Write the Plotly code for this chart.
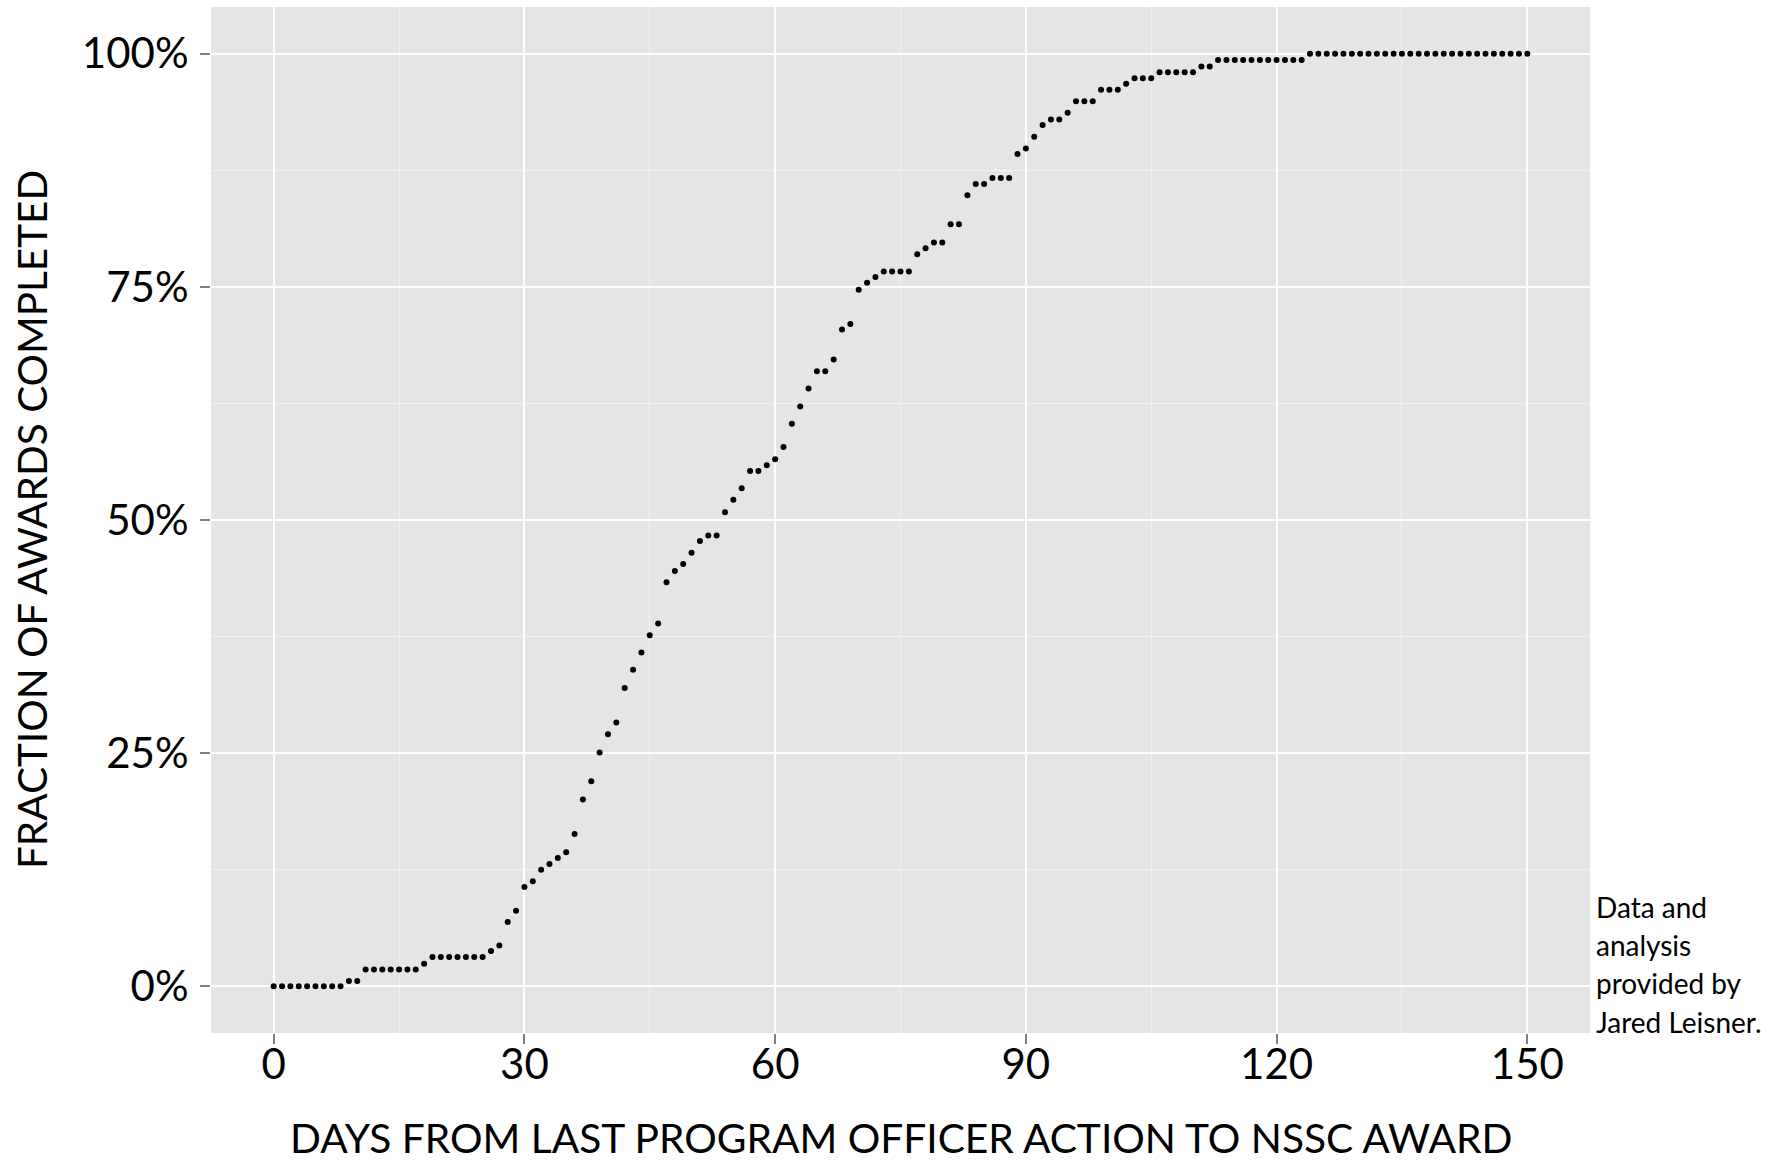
import plotly.graph_objects as go

days = list(range(0, 151))

fraction_completed = [
    # days 0-8
    0.0, 0.0, 0.0, 0.0, 0.0, 0.0, 0.0, 0.0, 0.0,
    # days 9-10
    0.0058, 0.0058,
    # days 11-17
    0.0182, 0.0182, 0.0182, 0.0182, 0.0182, 0.0182, 0.0182,
    # day 18
    0.0243,
    # days 19-25
    0.0314, 0.0314, 0.0314, 0.0314, 0.0314, 0.0314, 0.0314,
    # days 26-29
    0.0379, 0.0439, 0.0689, 0.081,
    # days 30-39
    0.1066, 0.1127, 0.1251, 0.1312, 0.1376, 0.1437, 0.1633, 0.2004, 0.22, 0.2507,
    # days 40-49
    0.2703, 0.2828, 0.3198, 0.3395, 0.358, 0.3765, 0.389, 0.4332, 0.4453, 0.4528,
    # days 50-59
    0.4649, 0.4774, 0.4834, 0.4834, 0.5084, 0.5216, 0.5341, 0.5526, 0.5526, 0.5587,
    # days 60-69
    0.5651, 0.5783, 0.6032, 0.6218, 0.641, 0.6596, 0.6596, 0.672, 0.7042, 0.7102,
    # days 70-79
    0.7469, 0.7544, 0.7604, 0.7665, 0.7665, 0.7665, 0.7665, 0.785, 0.7914, 0.7975,
    # days 80-89
    0.7975, 0.8171, 0.8171, 0.8481, 0.8603, 0.8603, 0.8667, 0.8667, 0.8667, 0.8924,
    # days 90-99
    0.8984, 0.9109, 0.9234, 0.9294, 0.9294, 0.9366, 0.949, 0.949, 0.949, 0.9612,
    # days 100-109
    0.9612, 0.9612, 0.9676, 0.9737, 0.9737, 0.9737, 0.9801, 0.9801, 0.9801, 0.9801,
    # days 110-119
    0.9801, 0.9861, 0.9861, 0.9932, 0.9932, 0.9932, 0.9932, 0.9932, 0.9932, 0.9932,
    # days 120-123
    0.9932, 0.9932, 0.9932, 0.9932,
    # days 124-150
] + [1.0] * 27

x_tick_vals = [0, 30, 60, 90, 120, 150]
x_tick_text = ["0", "30", "60", "90", "120", "150"]
y_tick_vals = [0, 0.25, 0.5, 0.75, 1.0]
y_tick_text = ["0%", "25%", "50%", "75%", "100%"]

x_title = "DAYS FROM LAST PROGRAM OFFICER ACTION TO NSSC AWARD"
y_title = "FRACTION OF AWARDS COMPLETED"
credit_lines = ["Data and", "analysis", "provided by", "Jared Leisner."]

FONT = "Lato"

fig = go.Figure()
fig.add_trace(go.Scatter(
    x=days, y=fraction_completed, mode="markers",
    marker=dict(color="black", size=6, line=dict(width=0)),
    hoverinfo="x+y", showlegend=False,
))

axis_common = dict(
    showgrid=True, gridcolor="white", gridwidth=2,
    zeroline=False, showline=False,
    ticks="outside", ticklen=10, tickwidth=2, tickcolor="#7f7f7f",
    tickfont=dict(family=FONT, size=42, color="black"),
)

fig.update_xaxes(
    range=[-7.5, 157.5], tickmode="array", tickvals=x_tick_vals, ticktext=x_tick_text,
    ticklabelstandoff=-15,
    minor=dict(tickvals=[15, 45, 75, 105, 135], showgrid=True, gridcolor="#F2F2F2",
               gridwidth=1, ticks=""),
    **axis_common,
)
fig.update_yaxes(
    range=[-0.05, 1.05], tickmode="array", tickvals=y_tick_vals, ticktext=y_tick_text,
    ticklabelstandoff=3,
    minor=dict(tickvals=[0.125, 0.375, 0.625, 0.875], showgrid=True, gridcolor="#F2F2F2",
               gridwidth=1, ticks=""),
    **axis_common,
)

plot_h = 1161 - 7 - 128
plot_w = 1788 - 211 - 198

annotations = [
    dict(text=x_title, xref="paper", yref="paper", x=0.5, y=(1033 - 1137) / plot_h,
         xanchor="center", yanchor="middle", showarrow=False, borderpad=0,
         font=dict(family=FONT, size=40.7, color="black")),
    dict(text=y_title, xref="paper", yref="paper", x=-0.1305, y=0.5,
         xanchor="center", yanchor="middle", textangle=-90, showarrow=False,
         font=dict(family=FONT, size=40.5, color="black")),
]
line_centers_px = [906.5, 945.3, 983.0, 1021.7]
for line, ypx in zip(credit_lines, line_centers_px):
    annotations.append(dict(
        text=line, xref="paper", yref="paper",
        x=(1594 - 211) / plot_w, y=(1161 - 128 - ypx) / plot_h,
        xanchor="left", yanchor="middle", showarrow=False,
        font=dict(family=FONT, size=28, color="black"),
    ))

fig.update_layout(
    width=1788, height=1161,
    margin=dict(l=211, r=198, t=7, b=128, pad=0),
    paper_bgcolor="white", plot_bgcolor="#E5E5E5",
    annotations=annotations,
    font=dict(family=FONT, color="black"),
)

fig.write_html("out.html", config={"displayModeBar": False},
               post_script="document.body.style.margin='0px';")
